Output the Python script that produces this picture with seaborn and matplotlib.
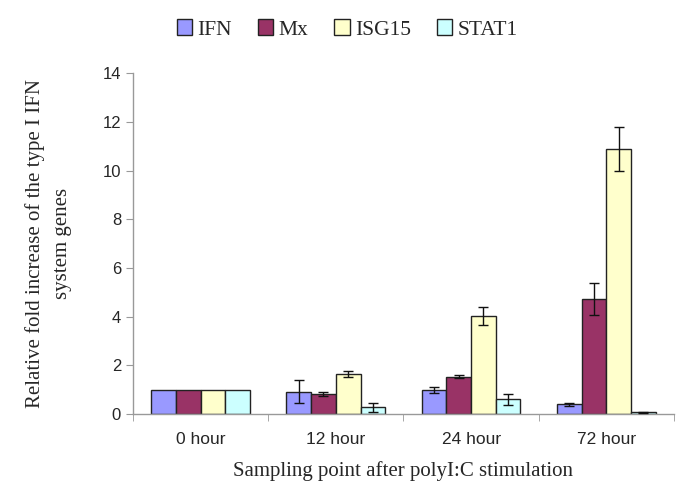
import numpy as np
import pandas as pd
import matplotlib
matplotlib.use("Agg")
import matplotlib.pyplot as plt
import seaborn as sns

# values
times = ['0 hour', '12 hour', '24 hour', '72 hour']
genes = ['IFN', 'Mx', 'ISG15', 'STAT1']
ifn = [1.0, 0.92, 0.98, 0.40]
mx = [1.0, 0.82, 1.53, 4.73]
isg15 = [1.0, 1.64, 4.02, 10.88]
stat1 = [1.0, 0.27, 0.60, 0.07]
ifn_err = [0.0, 0.47, 0.13, 0.07]
mx_err = [0.0, 0.08, 0.07, 0.65]
isg15_err = [0.0, 0.13, 0.38, 0.92]
stat1_err = [0.0, 0.18, 0.22, 0.02]

colors = ['#9999FF', '#993366', '#FFFFCC', '#CCFFFF']

vals = [ifn, mx, isg15, stat1]
errs = [ifn_err, mx_err, isg15_err, stat1_err]
rows = []
for g, v in zip(genes, vals):
    for t, y in zip(times, v):
        rows.append({'time': t, 'gene': g, 'value': y})
df = pd.DataFrame(rows)

sns.set_style('white')
plt.rcParams['font.family'] = ['Liberation Serif', 'DejaVu Serif']

fig = plt.figure(figsize=(6.85, 4.94), dpi=100)
ax = fig.add_axes([0.194, 0.162, 0.790, 0.690])

sns.barplot(data=df, x='time', y='value', hue='gene', order=times, hue_order=genes,
            palette=colors, saturation=1, width=0.73, gap=0, errorbar=None,
            edgecolor='#222222', linewidth=1.0, ax=ax, legend=True)

# error bars on top of each bar
for cont, e in zip(ax.containers, errs):
    for bar, err in zip(cont, e):
        if err <= 0:
            continue
        cx = bar.get_x() + bar.get_width() / 2
        ax.errorbar(cx, bar.get_height(), yerr=err, fmt='none', ecolor='#111111',
                    elinewidth=1.0, capsize=3.5, capthick=1.0, zorder=5)

ax.set_ylim(0, 14)
ax.set_yticks(np.arange(0, 15, 2))
ax.set_xlim(-0.5, 3.5)
ax.set_xticks(range(len(times)))
ax.set_xticklabels(times)
ax.set_xticks(np.arange(-0.5, 4.0, 1.0), minor=True)
ax.tick_params(axis='x', which='major', length=0, pad=13, labelsize=12.5)
ax.tick_params(axis='x', which='minor', length=5, color='#999999', direction='out', bottom=True)
ax.tick_params(axis='y', length=5, color='#999999', direction='out', left=True, labelsize=12)
for lab in ax.get_xticklabels() + ax.get_yticklabels():
    lab.set_fontfamily('Liberation Sans')

for s in ['top', 'right']:
    ax.spines[s].set_visible(False)
for s in ['left', 'bottom']:
    ax.spines[s].set_color('#999999')
    ax.spines[s].set_linewidth(1.0)

ax.set_xlabel('Sampling point after polyI:C stimulation', fontsize=15, labelpad=10)
ax.set_ylabel('Relative fold increase of the type I IFN\nsystem genes', fontsize=15,
              labelpad=22, linespacing=1.6)

ax.legend_.remove()
handles = [plt.Rectangle((0, 0), 1, 1, facecolor=c, edgecolor='#222222', linewidth=1.0) for c in colors]
fig.legend(handles, genes, loc='upper center', bbox_to_anchor=(0.507, 1.0), ncol=4,
           frameon=False, fontsize=15.5, handlelength=0.72, handleheight=0.72,
           handletextpad=0.25, columnspacing=1.2)

fig.savefig('out.png', dpi=100)
